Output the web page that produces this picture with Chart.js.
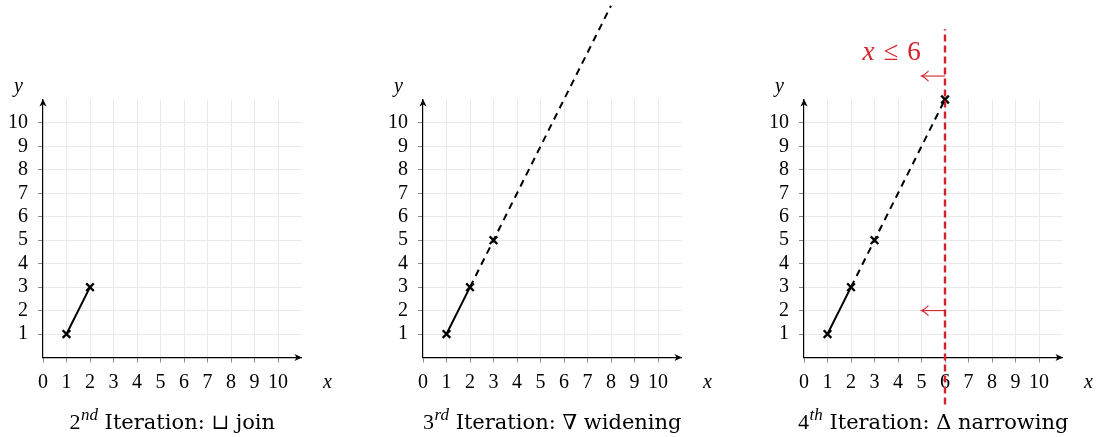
<!DOCTYPE html>
<html><head><meta charset="utf-8">
<script src="https://cdn.jsdelivr.net/npm/chart.js@4.4.1/dist/chart.umd.min.js"></script>
<style>
html,body{margin:0;padding:0;background:#fff;width:1102px;height:437px;overflow:hidden}
.p{position:absolute;top:0;width:380px;height:437px}
</style></head>
<body>
<div class="p" style="left:0px"><canvas id="c1" width="380" height="437"></canvas></div>
<div class="p" style="left:380px"><canvas id="c2" width="380" height="437"></canvas></div>
<div class="p" style="left:761px"><canvas id="c3" width="380" height="437"></canvas></div>
<script>
// ---- data ----
const xTickLabels = ['0','1','2','3','4','5','6','7','8','9','10'];
const yTickLabels = ['1','2','3','4','5','6','7','8','9','10'];
const joinX = [1, 2], joinY = [1, 3];
const widenX = [2, 8], widenY = [3, 15];
const narrowX = [2, 6], narrowY = [3, 11];
const pts2X = [1, 2], pts2Y = [1, 3];
const pts3X = [1, 2, 3], pts3Y = [1, 3, 5];
const pts4X = [1, 2, 3, 6], pts4Y = [1, 3, 5, 11];
const boundX = [6, 6], boundY = [-2, 14];
const arrowYs = [12, 2];
const arrowFromX = 6, arrowToX = 5;
const boundLabelPos = [3.73, 13.05];
const titleNums = ['2', '3', '4'];
const titleSups = ['nd', 'rd', 'th'];
const titleRest = [' Iteration: \u2294 join', ' Iteration: \u2207 widening', ' Iteration: \u0394 narrowing'];
const axisMax = 11;

const zip = (xs, ys) => xs.map((x, i) => ({x, y: ys[i]}));
const RED = '#d3222c';

function drawSegments(ctx, segs, cx, baseY) {
  let total = 0;
  segs.forEach(s => { ctx.font = s.font; s.w = ctx.measureText(s.t).width + (s.gap || 0); total += s.w; });
  let x = cx - total / 2;
  ctx.textBaseline = 'alphabetic';
  ctx.textAlign = 'left';
  segs.forEach(s => { ctx.font = s.font; ctx.fillText(s.t, x, baseY + (s.dy || 0)); x += s.w; });
}

function arrowHead(ctx, x, y, dir) {
  ctx.save();
  ctx.translate(x, y);
  ctx.rotate(dir);
  ctx.beginPath();
  ctx.moveTo(0, 0);
  ctx.lineTo(-7.5, -3.6);
  ctx.lineTo(-5.5, 0);
  ctx.lineTo(-7.5, 3.6);
  ctx.closePath();
  ctx.fillStyle = '#000';
  ctx.fill();
  ctx.restore();
}

function makeDecor(idx) {
  return {
    id: 'decor' + idx,
    afterDraw(chart) {
      const ctx = chart.ctx, xs = chart.scales.x, ys = chart.scales.y;
      const px = v => xs.getPixelForValue(v), py = v => ys.getPixelForValue(v);
      ctx.save();
      // axis arrows
      arrowHead(ctx, px(axisMax) + 0.5, py(0), 0);
      arrowHead(ctx, px(0), py(axisMax) - 0.5, -Math.PI / 2);
      // axis labels
      ctx.fillStyle = '#000';
      ctx.textAlign = 'center';
      ctx.textBaseline = 'alphabetic';
      ctx.font = 'italic 20px "Liberation Serif"';
      ctx.fillText('x', px(12.1), py(-1.3));
      ctx.fillText('y', px(-1.05), py(11.3));
      // title
      ctx.fillStyle = '#000';
      drawSegments(ctx, [
        {t: titleNums[idx], font: '22px "Liberation Serif"', gap: 0.5},
        {t: titleSups[idx], font: 'italic 17px "Liberation Serif"', dy: -9},
        {t: titleRest[idx], font: '21px "DejaVu Serif"'}
      ], px(5.5), py(-3.03));
      if (idx === 2) {
        ctx.strokeStyle = RED;
        ctx.fillStyle = RED;
        ctx.lineWidth = 1.1;
        arrowYs.forEach(v => {
          const y = py(v), x0 = px(arrowFromX), x1 = px(arrowToX);
          ctx.beginPath();
          ctx.moveTo(x0, y); ctx.lineTo(x1, y); ctx.stroke();
          ctx.beginPath();
          ctx.moveTo(x1 + 7, y - 5);
          ctx.quadraticCurveTo(x1 + 3, y - 1, x1, y);
          ctx.quadraticCurveTo(x1 + 3, y + 1, x1 + 7, y + 5);
          ctx.stroke();
        });
        drawSegments(ctx, [
          {t: 'x', font: 'italic 27px "Liberation Serif"', gap: 9},
          {t: '\u2264', font: '27px "Liberation Serif"', gap: 9},
          {t: '6', font: '27px "Liberation Serif"'}
        ], px(boundLabelPos[0]), py(boundLabelPos[1]) + 9);
      }
      ctx.restore();
    }
  };
}

function buildDatasets(idx) {
  const ds = [];
  ds.push({data: zip(joinX, joinY), showLine: true, borderColor: '#000', borderWidth: 2, pointRadius: 0, clip: false});
  if (idx === 1) ds.push({data: zip(widenX, widenY), showLine: true, borderColor: '#000', borderWidth: 2, borderDash: [7, 5.5], pointRadius: 0, clip: false});
  if (idx === 2) {
    ds.push({data: zip(narrowX, narrowY), showLine: true, borderColor: '#000', borderWidth: 2, borderDash: [7, 5.5], pointRadius: 0, clip: false});
    ds.push({data: zip(boundX, boundY), showLine: true, borderColor: RED, borderWidth: 2.4, borderDash: [7, 4], pointRadius: 0, clip: false});
  }
  const px = [pts2X, pts3X, pts4X][idx], pyv = [pts2Y, pts3Y, pts4Y][idx];
  ds.push({data: zip(px, pyv), showLine: false, pointStyle: 'crossRot', pointRadius: 5.4, borderColor: '#000', pointBorderColor: '#000', pointBorderWidth: 2.3, clip: false});
  return ds;
}

function makeChart(id, idx) {
  new Chart(document.getElementById(id), {
    type: 'scatter',
    data: {datasets: buildDatasets(idx)},
    options: {
      responsive: false,
      animation: false,
      devicePixelRatio: 1,
      layout: {padding: {left: 0, top: 99.5, right: 78.5, bottom: 0}},
      plugins: {legend: {display: false}, tooltip: {enabled: false}, title: {display: false}},
      scales: {
        x: {
          type: 'linear', min: 0, max: axisMax,
          afterFit: s => { s.height = 79.5; },
          border: {display: true, color: '#000', width: 1.2},
          grid: {
            color: c => (c.tick && c.tick.value > 0 && c.tick.value < axisMax) ? '#e9e9e9' : 'rgba(0,0,0,0)',
            tickColor: c => (c.tick && c.tick.value < axisMax) ? '#8a8a8a' : 'rgba(0,0,0,0)',
            tickLength: 5, lineWidth: 1
          },
          ticks: {
            stepSize: 1, autoSkip: false, maxRotation: 0, padding: 8,
            color: '#000', font: {family: '"Liberation Serif"', size: 20},
            callback: v => xTickLabels.includes(String(v)) ? String(v) : ''
          }
        },
        y: {
          type: 'linear', min: 0, max: axisMax,
          afterFit: s => { s.width = 43; },
          border: {display: true, color: '#000', width: 1.2},
          grid: {
            color: c => (c.tick && c.tick.value > 0 && c.tick.value < axisMax) ? '#e9e9e9' : 'rgba(0,0,0,0)',
            tickColor: c => (c.tick && c.tick.value > 0 && c.tick.value < axisMax) ? '#8a8a8a' : 'rgba(0,0,0,0)',
            tickLength: 5, lineWidth: 1
          },
          ticks: {
            stepSize: 1, autoSkip: false, padding: 10,
            color: '#000', font: {family: '"Liberation Serif"', size: 20},
            callback: v => yTickLabels.includes(String(v)) ? String(v) : ''
          }
        }
      }
    },
    plugins: [makeDecor(idx)]
  });
}
makeChart('c1', 0);
makeChart('c2', 1);
makeChart('c3', 2);
</script>
</body></html>
